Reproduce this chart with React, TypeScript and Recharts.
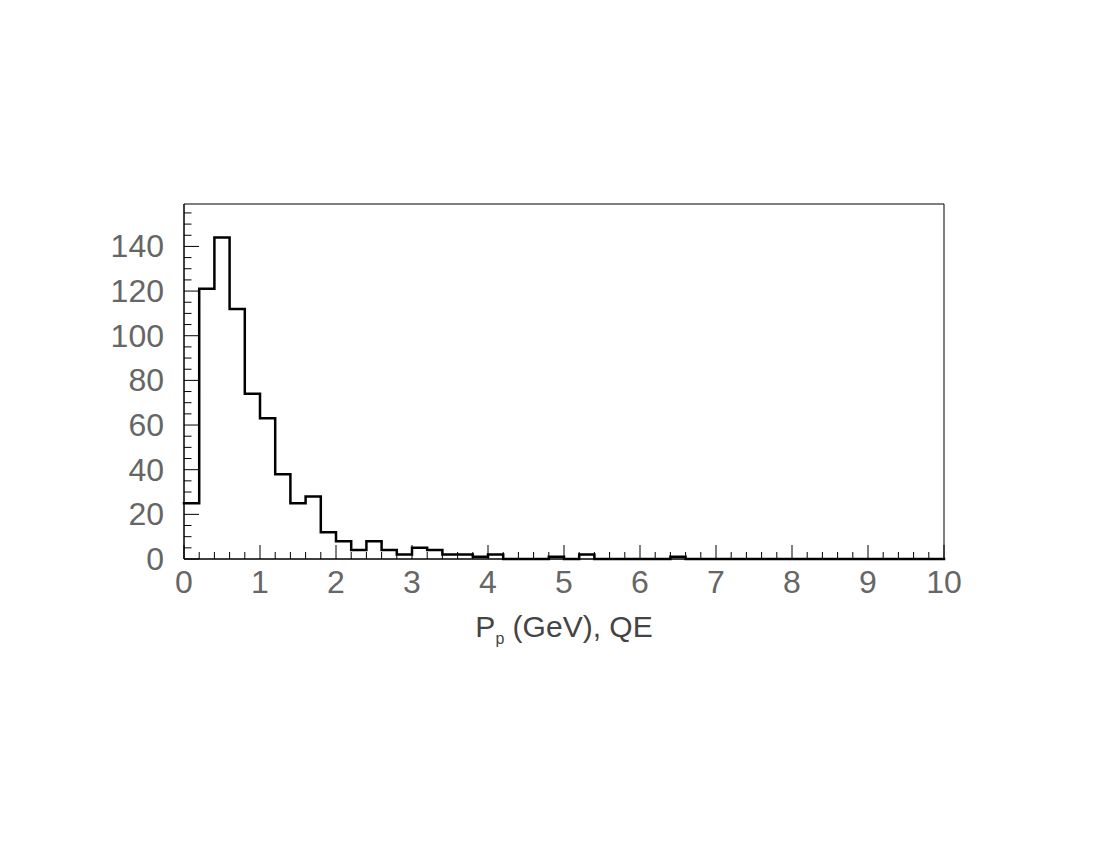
import React from "react";
import { ComposedChart, Line, XAxis, YAxis, ReferenceArea } from "recharts";

// Histogram bins (lower edges, GeV) and counts
const binStarts = [
  0, 0.2, 0.4, 0.6, 0.8, 1.0, 1.2, 1.4, 1.6, 1.8,
  2.0, 2.2, 2.4, 2.6, 2.8, 3.0, 3.2, 3.4, 3.6, 3.8,
  4.0, 4.2, 4.4, 4.6, 4.8, 5.0, 5.2, 5.4, 5.6, 5.8,
  6.0, 6.2, 6.4, 6.6, 6.8, 7.0, 7.2, 7.4, 7.6, 7.8,
  8.0, 8.2, 8.4, 8.6, 8.8, 9.0, 9.2, 9.4, 9.6, 9.8,
];
const counts = [
  25, 121, 144, 112, 74, 63, 38, 25, 28, 12,
  8, 4, 8, 4, 2, 5, 4, 2, 2, 1,
  2, 0, 0, 0, 1, 0, 2, 0, 0, 0,
  0, 0, 1, 0, 0, 0, 0, 0, 0, 0,
  0, 0, 0, 0, 0, 0, 0, 0, 0, 0,
];
const lastEdge = 10;

const xTicks = [...binStarts, lastEdge];
const xLabelTicks = [0, 1, 2, 3, 4, 5, 6, 7, 8, 9, 10];
const yTicks = [
  0, 5, 10, 15, 20, 25, 30, 35, 40, 45, 50, 55, 60, 65, 70, 75, 80,
  85, 90, 95, 100, 105, 110, 115, 120, 125, 130, 135, 140, 145, 150, 155,
];
const yLabelTicks = [0, 20, 40, 60, 80, 100, 120, 140];
const yMax = 159;

const data = [
  ...binStarts.map((x, i) => ({ x, count: counts[i] })),
  { x: lastEdge, count: 0 },
];

const FONT = "'Liberation Sans', Arial, Helvetica, sans-serif";
const LABEL_COLOR = "#666";

const XTick = (props: any) => {
  const { x, y, payload } = props;
  const v = payload.value;
  const isMajor = xLabelTicks.some((t) => Math.abs(t - v) < 1e-6);
  const len = isMajor ? 14 : 7;
  return (
    <g>
      <line x1={x} x2={x} y1={y} y2={y - len} stroke="#000" strokeWidth={1} />
      {isMajor && (
        <text
          x={x}
          y={y + 34}
          textAnchor="middle"
          fontFamily={FONT}
          fontSize={32}
          fill={LABEL_COLOR}
        >
          {Math.round(v)}
        </text>
      )}
    </g>
  );
};

const YTick = (props: any) => {
  const { x, y, payload } = props;
  const v = payload.value;
  const isMajor = yLabelTicks.includes(v);
  const len = isMajor ? 15 : 7.5;
  return (
    <g>
      <line x1={x} x2={x + len} y1={y} y2={y} stroke="#000" strokeWidth={1} />
      {isMajor && (
        <text
          x={x - 20}
          y={y + 11}
          textAnchor="end"
          fontFamily={FONT}
          fontSize={32}
          fill={LABEL_COLOR}
        >
          {v}
        </text>
      )}
    </g>
  );
};

const XTitle = (props: any) => {
  const vb = props.viewBox || { x: 176, y: 551, width: 760, height: 40 };
  return (
    <text
      x={vb.x + vb.width / 2}
      y={vb.y + 78}
      textAnchor="middle"
      fontFamily={FONT}
      fontSize={30}
      fill="#444"
    >
      P
      <tspan fontSize={16} dy={7}>p</tspan>
      <tspan dy={-7}> (GeV), QE</tspan>
    </text>
  );
};

export default function App() {
  return (
    <div style={{ width: 1092, height: 842 }}>
      <ComposedChart
        width={1092}
        height={842}
        data={data}
        margin={{ top: 196, right: 156, bottom: 251, left: 96 }}
      >
        <XAxis
          dataKey="x"
          type="number"
          domain={[0, lastEdge]}
          ticks={xTicks}
          interval={0}
          tickSize={0}
          tickMargin={0}
          tickLine={false}
          axisLine={{ stroke: "#000", strokeWidth: 1 }}
          tick={XTick}
          height={40}
          allowDecimals
          label={{ content: XTitle }}
        />
        <YAxis
          type="number"
          domain={[0, yMax]}
          ticks={yTicks}
          interval={0}
          tickSize={0}
          tickMargin={0}
          tickLine={false}
          axisLine={{ stroke: "#000", strokeWidth: 1 }}
          tick={YTick}
          width={80}
        />
        <ReferenceArea
          x1={0}
          x2={lastEdge}
          y1={0}
          y2={yMax}
          fill="none"
          fillOpacity={0}
          stroke="#000"
          strokeWidth={1}
          ifOverflow="visible"
        />
        <Line
          type="stepAfter"
          dataKey="count"
          stroke="#000"
          strokeWidth={2.5}
          dot={false}
          activeDot={false}
          isAnimationActive={false}
          strokeLinejoin="miter"
          strokeLinecap="square"
        />
      </ComposedChart>
    </div>
  );
}
